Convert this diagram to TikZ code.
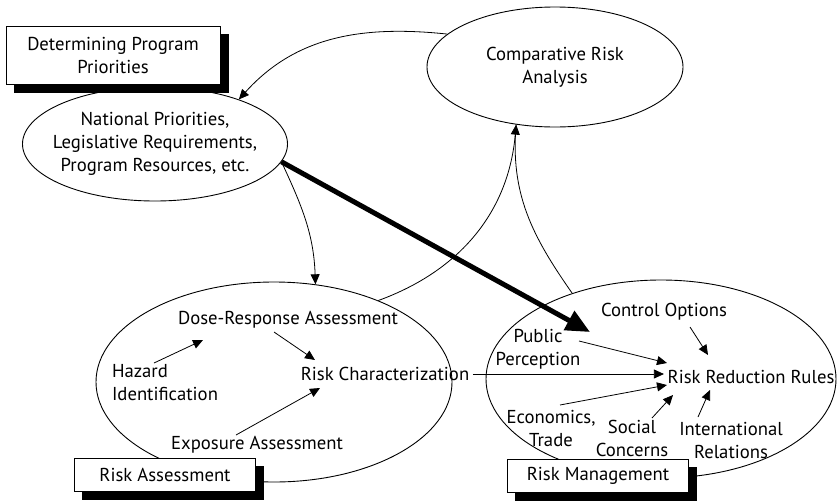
\documentclass[tikz,border=0pt]{standalone}
\usepackage{fontspec}
\setmainfont{PT Sans}
\usetikzlibrary{shapes.geometric,arrows.meta,calc}

\begin{document}
\begin{tikzpicture}[x=1pt, y=-1pt, >={Triangle[length=10pt,width=9pt]},
  line width=0.8pt,
  font=\fontsize{18.7}{23}\selectfont,
  blob/.style={draw, ellipse, align=center, inner sep=0pt, line width=0.9pt},
  tagbox/.style={draw, fill=white, align=center, line width=0.9pt,
    minimum height=33pt},
  tagshade/.style={draw=black, fill=black, inner sep=0pt, minimum height=33pt},
  bigarrow/.style={line width=5pt, -{Triangle[length=24pt,width=21pt]}}]
  \useasboundingbox (0,0) rectangle (837,501);

  % shadows of the tags
  \node[tagshade, minimum width=214pt, minimum height=58pt] (progshade) at (121,63) {};
  \node[tagshade, minimum width=181pt] (assessshade) at (173,483) {};
  \node[tagshade, minimum width=181pt] (manageshade) at (606,484) {};

  % the four areas
  \node[blob, inner xsep=-10pt, minimum width=265pt, minimum height=114pt] (natl) at (155,144)
    {National Priorities,\\Legislative Requirements,\\Program Resources, etc.};
  \node[blob, minimum width=256pt, minimum height=120pt] (compare) at (555,67)
    {Comparative Risk\\Analysis};
  \node[blob, minimum width=356pt, minimum height=200pt] (assess) at (274,382) {};
  \node[blob, minimum width=350pt, minimum height=198pt] (manage) at (661,379) {};

  % tags
  \node[tagbox, minimum width=214pt, minimum height=58pt] (progbox) at (113,55)
    {Determining Program\\Priorities};
  \node[tagbox, minimum width=181pt] (assessbox) at (165,475) {Risk Assessment};
  \node[tagbox, minimum width=181pt] (managebox) at (598,476) {Risk Management};

  % risk assessment
  \node (dose)    at (288,320) {Dose-Response Assessment};
  \node[align=left] (hazard) at (165,383) {Hazard\\Identification};
  \node (charact) at (385,374) {Risk Characterization};
  \node (expo)    at (257,445) {Exposure Assessment};

  % risk management
  \node (control) at (664,312) {Control Options};
  \node[align=center] (public) at (538,349) {Public\\Perception};
  \node (rules)   at (751,377) {Risk Reduction Rules};
  \node[align=center] (econ)   at (551,428) {Economics,\\Trade};
  \node[align=center] (social) at (632,438) {Social\\Concerns};
  \node[align=center] (intl)   at (731,440) {International\\Relations};

  \path[->]
    (compare.163) edge [out=174, in=48] (natl.28)
    (natl.-8)     edge [out=-65, in=92] (assess.67)
    (assess.38)   edge [out=20, in=-95] (compare.-124)
    ($(hazard)+(-11,-20)$) edge ($(dose)+(-85,20)$)
    ($(dose)+(-14,12)$)    edge ($(charact)+(-70,-14)$)
    ($(expo)+(-21,-10)$)   edge ($(charact)+(-65,14)$)
    (charact.east)         edge (charact.east -| rules.west)
    ($(public)+(41,-8)$)   edge ($(rules)+(-84,-14)$)
    ($(control)+(26,15)$)  edge ($(rules)+(-43,-22)$)
    ($(econ)+(9,-23)$)     edge ($(rules)+(-84,8)$)
    ($(social)+(20,-20)$)  edge ($(rules)+(-78,18)$)
    ($(intl)+(-33,-23)$)   edge ($(rules)+(-41,13)$)
    ;
  \draw (manage.136) to[out=125, in=-95] (compare.-124);
  \draw[bigarrow] (natl.-8) -- ($(public)+(52,-17)$);
\end{tikzpicture}
\end{document}
